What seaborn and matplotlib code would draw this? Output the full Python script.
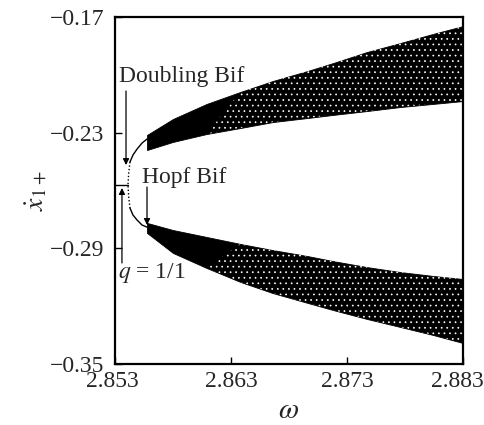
import matplotlib
matplotlib.use("Agg")
import matplotlib.pyplot as plt
import matplotlib.transforms as mtransforms
import seaborn as sns
import pandas as pd

# ---- data ----
# upper quasi-periodic band (omega, upper edge, lower edge)
band_up_omega = [2.85576, 2.8580, 2.8609, 2.8638, 2.8666, 2.8696, 2.8718, 2.8747, 2.8776, 2.8804, 2.8830]
band_up_top = [-0.2312, -0.2229, -0.2151, -0.2089, -0.2032, -0.1980, -0.1939, -0.1882, -0.1835, -0.1788, -0.1747]
band_up_bot = [-0.2390, -0.2348, -0.2307, -0.2276, -0.2245, -0.2224, -0.2208, -0.2188, -0.2167, -0.2151, -0.2136]
# lower quasi-periodic band
band_lo_omega = [2.85576, 2.8580, 2.8609, 2.8638, 2.8666, 2.8696, 2.8718, 2.8747, 2.8776, 2.8804, 2.8830]
band_lo_top = [-0.2768, -0.2805, -0.2841, -0.2877, -0.2909, -0.2940, -0.2966, -0.2997, -0.3023, -0.3043, -0.3059]
band_lo_bot = [-0.2820, -0.2924, -0.3002, -0.3074, -0.3132, -0.3183, -0.3220, -0.3266, -0.3308, -0.3349, -0.3391]

# period-1 branch (q = 1/1)
p1_omega = [2.8530, 2.85412]
p1_x = [-0.2571, -0.2571]
# unstable part near the doubling point (dotted)
uns_omega = [2.85429, 2.85418, 2.85412, 2.85418, 2.85429]
uns_x = [-0.2452, -0.2510, -0.2571, -0.2632, -0.2691]
# stable period-2 branches
up_omega = [2.85429, 2.85455, 2.85490, 2.85533, 2.85576]
up_x = [-0.2452, -0.2416, -0.2385, -0.2354, -0.2333]
lo_omega = [2.85429, 2.85455, 2.85490, 2.85533, 2.85576]
lo_x = [-0.2691, -0.2727, -0.2753, -0.2779, -0.2790]

x_ticks = [2.853, 2.863, 2.873, 2.883]
y_ticks = [-0.35, -0.29, -0.23, -0.17]

# ---- style ----
sns.set_theme(style="white")
plt.rcParams['font.family'] = ['Liberation Serif', 'DejaVu Serif']
plt.rcParams['mathtext.fontset'] = 'stix'
plt.rcParams['axes.unicode_minus'] = True
plt.rcParams['hatch.linewidth'] = 0.5

fig = plt.figure(figsize=(4.85, 4.25), dpi=100)
ax = fig.add_axes([0.2371, 0.1435, 0.7175, 0.8165])

for om, bot, top in ((band_up_omega, band_up_bot, band_up_top),
                     (band_lo_omega, band_lo_bot, band_lo_top)):
    ax.fill_between(om, bot, top, facecolor='black', edgecolor='black', lw=0.6)
    ax.fill_between(om, bot, top, where=[w >= 2.8638 for w in om], interpolate=True,
                    facecolor='none', edgecolor='white', hatch='...', lw=0)

df_p1 = pd.DataFrame({'w': p1_omega, 'x': p1_x})
df_up = pd.DataFrame({'w': up_omega, 'x': up_x})
df_lo = pd.DataFrame({'w': lo_omega, 'x': lo_x})
df_un = pd.DataFrame({'w': uns_omega, 'x': uns_x})
for d in (df_p1, df_up, df_lo):
    sns.lineplot(data=d, x='w', y='x', sort=False, color='black', lw=1.0, ax=ax, estimator=None)
sns.lineplot(data=df_un, x='w', y='x', sort=False, color='black', lw=1.0, ls=(0, (1, 1.5)), ax=ax, estimator=None)

ax.set_xlim(2.853, 2.883)
ax.set_ylim(-0.35, -0.17)
ax.set_xticks(x_ticks)
ax.set_xticklabels([f"{v:.3f}" for v in x_ticks])
ax.set_yticks(y_ticks)
ax.set_yticklabels([f"\u2212{abs(v):.2f}" for v in y_ticks])
ax.tick_params(direction='in', length=5, width=1, labelsize=17, color='black',
               left=True, bottom=True, top=False, right=False)
ax.tick_params(axis='y', pad=8)
ax.tick_params(axis='x', pad=5)
for s in ax.spines.values():
    s.set_linewidth(1.6)
    s.set_color('black')

# nudge the outer x tick labels so they stay inside the figure, as in the reference
xl = ax.get_xticklabels()
xl[-1].set_transform(xl[-1].get_transform() + mtransforms.ScaledTranslation(-6 / 100, 0, fig.dpi_scale_trans))
xl[0].set_transform(xl[0].get_transform() + mtransforms.ScaledTranslation(-3 / 100, 0, fig.dpi_scale_trans))

ax.set_xlabel(r'$\omega$', fontsize=21, labelpad=4)
ax.set_ylabel(r'$\dot{x}_{1+}$', fontsize=20, labelpad=1)

ap = dict(arrowstyle='-|>', lw=0.9, color='black', mutation_scale=9, shrinkA=0, shrinkB=0)
ax.text(2.85334, -0.2037, 'Doubling Bif', fontsize=17, ha='left', va='baseline')
ax.annotate('', xy=(2.85395, -0.2468), xytext=(2.85395, -0.2084), arrowprops=ap)
ax.text(2.85533, -0.2561, 'Hopf Bif', fontsize=17, ha='left', va='baseline')
ax.annotate('', xy=(2.85576, -0.2779), xytext=(2.85576, -0.2582), arrowprops=ap)
ax.annotate('', xy=(2.85360, -0.2587), xytext=(2.85360, -0.2976), arrowprops=ap)
ax.text(2.85326, -0.3054, r'$q$ = 1/1', fontsize=17, ha='left', va='baseline')

fig.savefig('out.png', dpi=100)
